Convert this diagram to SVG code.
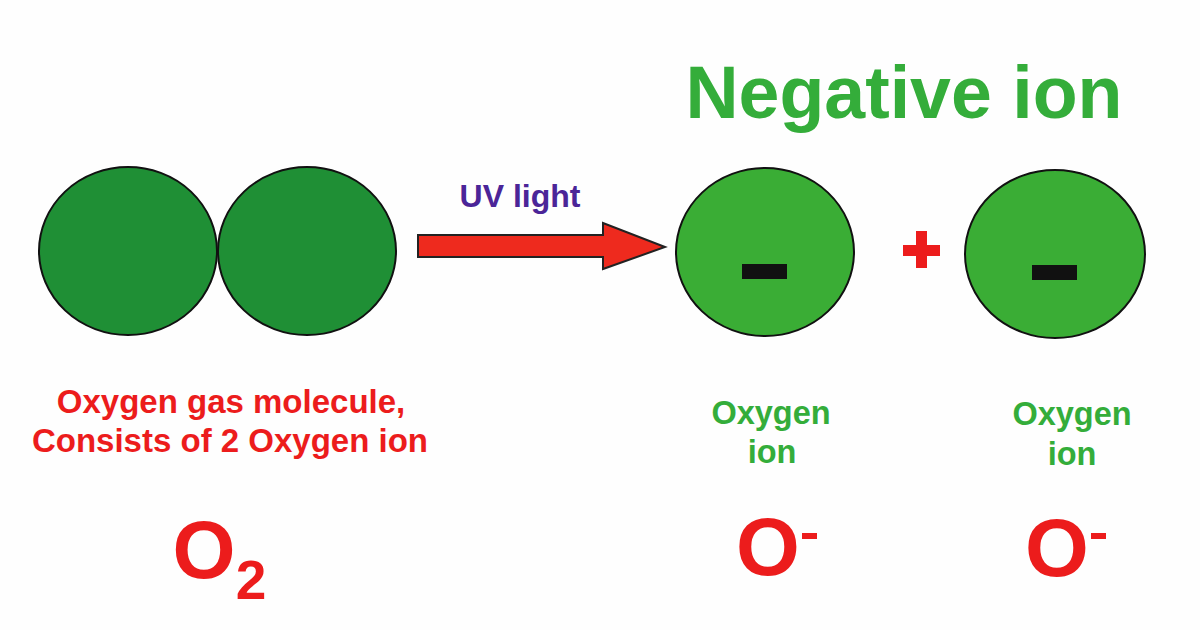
<svg xmlns="http://www.w3.org/2000/svg" width="1200" height="630" viewBox="0 0 1200 630">
<style>
text{font-family:"Liberation Sans",Arial,sans-serif;font-weight:bold;text-anchor:middle}
.dark{fill:#1f8f35;stroke:#111;stroke-width:2}
.light{fill:#3aad35;stroke:#111;stroke-width:2}
.red{fill:#ec1c1c}
.grn{fill:#34ad3a}
.minus{fill:#111}
</style>
<rect width="1200" height="630" fill="#fefefe"/>
<g id="o2-molecule">
<ellipse class="dark" cx="128" cy="251" rx="89" ry="84"/>
<ellipse class="dark" cx="307" cy="251" rx="89" ry="84"/>
</g>
<g id="connectors">
<path d="M418,235 H603 V223 L665,247 L603,269 V257 H418 Z" fill="#ee2a1e" stroke="#222" stroke-width="2" stroke-linejoin="miter"/>
<text x="520" y="207" font-size="32" fill="#4b2598">UV light</text>
</g>
<g id="ion1">
<ellipse class="light" cx="765" cy="252" rx="89" ry="84"/>
<rect class="minus" x="742" y="264" width="45" height="15"/>
</g>
<g id="plus">
<rect class="red" x="903" y="245" width="37" height="11"/>
<rect class="red" x="916" y="231" width="11" height="37"/>
</g>
<g id="ion2">
<ellipse class="light" cx="1055" cy="254" rx="90" ry="84"/>
<rect class="minus" x="1032" y="265" width="45" height="15"/>
</g>
<text class="grn" x="904" y="118" font-size="73.5">Negative ion</text>
<g id="labels-left">
<text class="red" x="231" y="413" font-size="33">Oxygen gas molecule,</text>
<text class="red" x="230" y="452" font-size="33">Consists of 2 Oxygen ion</text>
<text class="red" x="204" y="578" font-size="81">O</text>
<text class="red" x="251" y="599" font-size="55">2</text>
</g>
<g id="labels-ion1">
<text class="grn" x="771" y="424" font-size="32.5">Oxygen</text>
<text class="grn" x="772" y="463" font-size="32.5">ion</text>
<text class="red" x="768" y="575" font-size="82">O</text>
<rect class="red" x="802" y="533" width="15" height="6"/>
</g>
<g id="labels-ion2">
<text class="grn" x="1072" y="425" font-size="32.5">Oxygen</text>
<text class="grn" x="1072" y="465" font-size="32.5">ion</text>
<text class="red" x="1057" y="576" font-size="82">O</text>
<rect class="red" x="1091" y="533" width="15" height="6"/>
</g>
</svg>
